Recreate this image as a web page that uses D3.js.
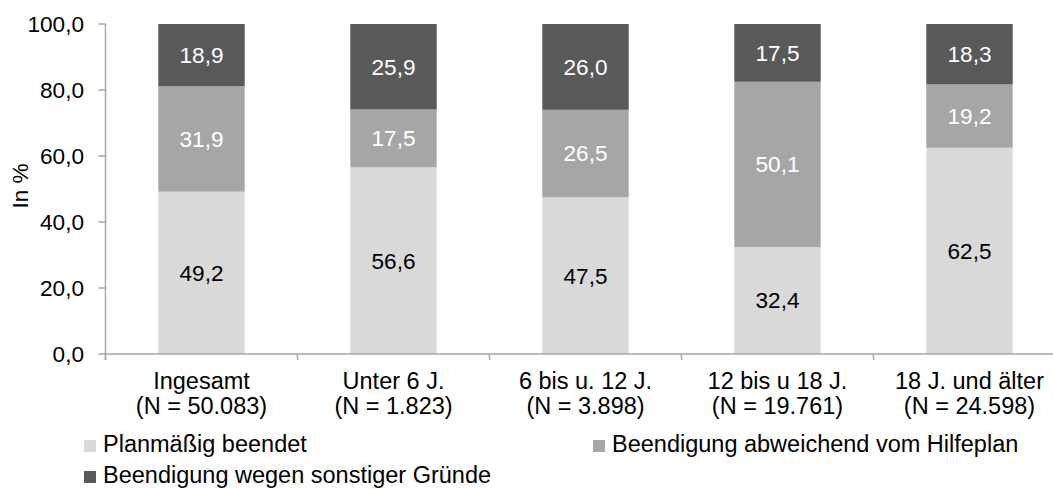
<!DOCTYPE html>
<html>
<head>
<meta charset="utf-8">
<script src="https://cdn.jsdelivr.net/npm/d3@7"></script>
<style>
  body { margin: 0; background: #fff; }
  text { font-family: "Liberation Sans", Arial, sans-serif; }
</style>
</head>
<body>
<svg id="chart"></svg>
<script>
// data
const categories = ["Ingesamt", "Unter 6 J.", "6 bis u. 12 J.", "12 bis u 18 J.", "18 J. und älter"];
const nLabels = ["(N = 50.083)", "(N = 1.823)", "(N = 3.898)", "(N = 19.761)", "(N = 24.598)"];
const seriesNames = ["Planmäßig beendet", "Beendigung abweichend vom Hilfeplan", "Beendigung wegen sonstiger Gründe"];
const planmaessig = [49.2, 56.6, 47.5, 32.4, 62.5];
const abweichend = [31.9, 17.5, 26.5, 50.1, 19.2];
const sonstige = [18.9, 25.9, 26.0, 17.5, 18.3];
const yTicks = [0, 20, 40, 60, 80, 100];

const colors = ["#d9d9d9", "#a6a6a6", "#595959"];
const labelColors = ["#000", "#fff", "#fff"];

const width = 1053;
const height = 489;
const margin = { left: 105.5, top: 24 };

const svg = d3.select('#chart')
  .attr('width', width)
  .attr('height', height);

// plot area runs a bit past the right edge of the picture
const x = d3.scaleBand()
  .domain(categories)
  .range([margin.left, margin.left + 960])
  .paddingInner(0.55)
  .paddingOuter(0.275);

const y = d3.scaleLinear()
  .domain([0, 100])
  .range([354, 24]);

// stack
const table = categories.map((c, i) => ({
  cat: c, s0: planmaessig[i], s1: abweichend[i], s2: sonstige[i]
}));
const stack = d3.stack().keys(["s0", "s1", "s2"])(table);

const layers = svg.selectAll('.layer')
  .data(stack)
  .enter().append('g')
  .attr('class', 'layer')
  .attr('fill', (d, i) => colors[i]);

layers.selectAll('rect')
  .data(d => d)
  .enter().append('rect')
  .attr('x', d => x(d.data.cat))
  .attr('width', x.bandwidth())
  .attr('y', d => y(d[1]))
  .attr('height', d => y(d[0]) - y(d[1]));

const fmt = v => d3.format('.1f')(v).replace('.', ',');

layers.each(function (layer, li) {
  d3.select(this).selectAll('text')
    .data(layer)
    .enter().append('text')
    .attr('x', d => x(d.data.cat) + x.bandwidth() / 2)
    .attr('y', d => (y(d[0]) + y(d[1])) / 2)
    .attr('dy', '0.35em')
    .attr('text-anchor', 'middle')
    .attr('font-size', '22.6px')
    .attr('fill', labelColors[li])
    .text(d => fmt(d[1] - d[0]));
});

// y axis
const axisColor = '#a6a6a6';
svg.append('line')
  .attr('x1', margin.left).attr('x2', margin.left)
  .attr('y1', y(100)).attr('y2', y(0) + 6)
  .attr('stroke', axisColor).attr('stroke-width', 1.5);

svg.selectAll('.ytick')
  .data(yTicks)
  .enter().append('line')
  .attr('x1', margin.left - 7).attr('x2', margin.left)
  .attr('y1', d => y(d)).attr('y2', d => y(d))
  .attr('stroke', axisColor).attr('stroke-width', 1.5);

svg.selectAll('.ylabel')
  .data(yTicks)
  .enter().append('text')
  .attr('x', 84)
  .attr('y', d => y(d))
  .attr('dy', '0.35em')
  .attr('text-anchor', 'end')
  .attr('font-size', '22.6px')
  .attr('fill', '#000')
  .text(d => fmt(d));

svg.append('text')
  .attr('transform', 'translate(28,186) rotate(-90)')
  .attr('text-anchor', 'middle')
  .attr('font-size', '22.6px')
  .text('In %');

// x axis
svg.append('line')
  .attr('x1', margin.left).attr('x2', width)
  .attr('y1', y(0)).attr('y2', y(0))
  .attr('stroke', axisColor).attr('stroke-width', 1.5);

const step = x.step();
// ticks sit between the categories
svg.selectAll('.xtick')
  .data(categories)
  .enter().append('line')
  .attr('x1', d => x(d) + x.bandwidth() / 2 - step / 2)
  .attr('x2', d => x(d) + x.bandwidth() / 2 - step / 2)
  .attr('y1', y(0)).attr('y2', y(0) + 6)
  .attr('stroke', axisColor).attr('stroke-width', 1.5);

const xl = svg.selectAll('.xlabel')
  .data(categories)
  .enter().append('text')
  .attr('text-anchor', 'middle')
  .attr('font-size', '23.5px')
  .attr('fill', '#000');
xl.append('tspan')
  .attr('x', d => x(d) + x.bandwidth() / 2)
  .attr('y', 389)
  .text(d => d);
xl.append('tspan')
  .attr('x', d => x(d) + x.bandwidth() / 2)
  .attr('y', 414)
  .text((d, i) => nLabels[i]);

// legend
const legendPos = [[84, 440], [593, 440], [84, 471]];
const legend = svg.selectAll('.legend')
  .data(seriesNames)
  .enter().append('g')
  .attr('transform', (d, i) => `translate(${legendPos[i][0]},${legendPos[i][1]})`);

legend.append('rect')
  .attr('width', 12).attr('height', 12)
  .attr('fill', (d, i) => colors[i]);

legend.append('text')
  .attr('x', 19)
  .attr('y', 12)
  .attr('font-size', '23.5px')
  .text(d => d);
</script>
</body>
</html>
